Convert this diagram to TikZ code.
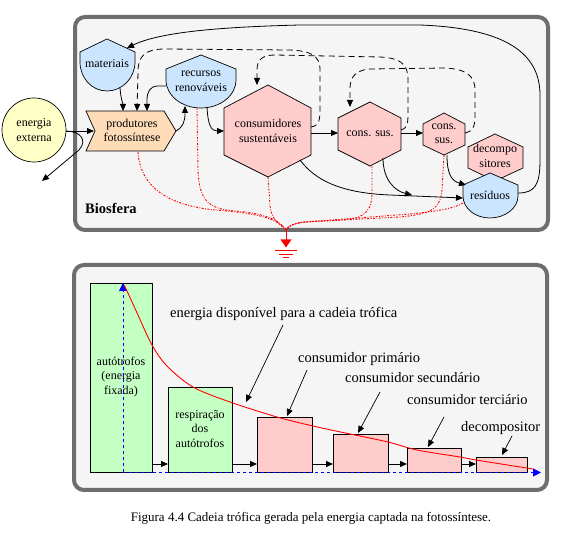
\documentclass[tikz,border=0pt]{standalone}
\usepackage{fontspec}
\setmainfont{Liberation Serif}
\usetikzlibrary{arrows.meta}
\definecolor{panelbg}{HTML}{F5F5F5}
\definecolor{panelbd}{HTML}{6E6E6E}
\definecolor{shieldblue}{HTML}{CCE5FF}
\definecolor{hexpink}{HTML}{FFCCCC}
\definecolor{peachfill}{HTML}{FFDCB8}
\definecolor{sunyellow}{HTML}{FFFFC8}
\definecolor{bargreen}{HTML}{C4FFC4}
\definecolor{flowblue}{HTML}{0000FF}
\tikzset{
  panel/.style={draw=panelbd, fill=panelbg, line width=4pt, rounded corners=10pt},
  shapeline/.style={draw=black, line width=0.7pt},
  lbl/.style={font=\fontsize{12}{14.5}\selectfont, align=center, inner sep=0pt},
  ann/.style={font=\fontsize{14.5}{16}\selectfont, inner sep=0pt, anchor=west},
  arr/.style={-{Triangle[length=7pt,width=6pt]}, line width=0.8pt},
  dasharr/.style={arr, dash pattern=on 6pt off 4pt},
  dissip/.style={draw=red, line width=0.9pt, dash pattern=on 2pt off 1.5pt on 0.8pt off 1.5pt},
  bar/.style={draw=black, line width=0.8pt},
  axisline/.style={draw=flowblue, line width=1pt, dash pattern=on 3pt off 3pt, -{Triangle[length=8pt,width=8pt]}},
}
\begin{document}
\begin{tikzpicture}[x=1pt,y=-1pt]
\useasboundingbox (0,0) rectangle (566,537);
\fill[white] (0,0) rectangle (566,537);

% ---------------- top panel ----------------
\draw[panel] (75,17) rectangle (548,230);
\node[font=\fontsize{14.5}{16}\selectfont\bfseries, inner sep=0pt, anchor=west] (bio) at (85,208) {Biosfera};

% shapes
\draw[shapeline, fill=sunyellow] (34,130) circle (32);
\node[lbl] (E) at (34,130) {energia\\externa};

\draw[shapeline, fill=shieldblue] (107,39) -- (135,52) -- (135,62)
  .. controls (135,78) and (122.2,91) .. (107,91)
  .. controls (91.8,91) and (80,78) .. (80,62) -- (80,52) -- cycle;
\node[lbl] (M) at (107,64) {materiais};

\draw[shapeline, fill=shieldblue] (201,55) -- (236,69) -- (236,80)
  .. controls (236,95.5) and (220.3,108) .. (201,108)
  .. controls (181.7,108) and (166,95.5) .. (166,80) -- (166,69) -- cycle;
\node[lbl] (R) at (201,81) {recursos\\renováveis};

\draw[shapeline, fill=peachfill] (86,111) -- (164,111) -- (176,131) -- (164,151) -- (86,151) -- (95,131) -- cycle;
\node[lbl] (P) at (132,130.5) {produtores\\fotossíntese};

\draw[shapeline, fill=hexpink] (268,85) -- (311,108) -- (311,155) -- (268,177) -- (224,155) -- (224,108) -- cycle;
\node[lbl] (C1) at (268,131) {consumidores\\sustentáveis};

\draw[shapeline, fill=hexpink] (370,102) -- (401,118) -- (401,150) -- (370,166) -- (338,150) -- (338,118) -- cycle;
\node[lbl] (C2) at (370,134) {cons. sus.};

\draw[shapeline, fill=hexpink] (444,113) -- (465,124) -- (465,145) -- (444,155) -- (423,145) -- (423,124) -- cycle;
\node[lbl] (C3) at (444,134) {cons.\\sus.};

\draw[shapeline, fill=hexpink] (495,134) -- (523,147) -- (523,168) -- (495,181) -- (468,168) -- (468,147) -- cycle;
\node[lbl] (D) at (495,156) {decompo\\sitores};

\draw[shapeline, fill=shieldblue] (490,173) -- (518,185) -- (518,196)
  .. controls (518,208.1) and (505.2,218) .. (490,218)
  .. controls (474.8,218) and (463,208.1) .. (463,196) -- (463,185) -- cycle;
\node[lbl] (Res) at (490,195) {resíduos};

% connection points
\coordinate (E-e) at (66,131);
\coordinate (P-w) at (94,131);
\coordinate (out-sink) at (42,181);
\coordinate (M-s) at (120,88);
\coordinate (P-n1) at (123,111);
\coordinate (P-n2) at (137,111);
\coordinate (P-n3) at (147,111);
\coordinate (P-e) at (176,131);
\coordinate (R-s1) at (185,106);
\coordinate (R-w) at (166,86);
\coordinate (R-s2) at (207,107);
\coordinate (C1-w) at (224,131);
\coordinate (C1-n) at (257,85);
\coordinate (C1-e1) at (311,127);
\coordinate (C1-e) at (311,133);
\coordinate (C1-se) at (300,160);
\coordinate (C2-w) at (338,133);
\coordinate (C2-n) at (350,107);
\coordinate (C2-e1) at (401,130);
\coordinate (C2-e) at (401,133);
\coordinate (C2-s) at (383,158);
\coordinate (C3-w) at (423,133);
\coordinate (C3-e) at (465,133);
\coordinate (C3-s) at (447,155);
\coordinate (Res-w) at (463,198);
\coordinate (Res-nw) at (466,185);
\coordinate (Res-e) at (518,193);
\coordinate (M-ne) at (127,48);
\coordinate (join) at (412,195);
\coordinate (G) at (286,230);

% solid flows
\draw[arr] (E-e) -- (P-w);
\draw[arr] (E-e) .. controls (80,131) and (88,140) .. (79,150) -- (out-sink);
\draw[arr] (M-s) .. controls (121,100) and (123,104) .. (P-n1);
\draw[arr] (P-e) .. controls (183,127) and (185,122) .. (R-s1);
\draw[arr] (R-w) -- (158,86) .. controls (150,86) and (147,92) .. (147,100) -- (P-n3);
\draw[arr] (R-s2) .. controls (208,125) and (211,131) .. (C1-w);
\draw[arr] (C1-e) -- (C2-w);
\draw[arr] (C2-e) -- (C3-w);
\draw[arr] (C1-se) .. controls (315,180) and (340,193) .. (390,195) -- (Res-w);
\draw[arr] (C2-s) .. controls (383,180) and (395,191) .. (join);
\draw[arr] (C3-s) .. controls (447,175) and (452,181) .. (Res-nw);
\draw[arr] (Res-e) .. controls (535,193) and (540,185) .. (540,160) -- (540,95)
  .. controls (540,50) and (500,28) .. (420,25) -- (300,25)
  .. controls (220,27) and (160,32) .. (M-ne);

% dashed feedbacks
\draw[dasharr] (C1-e1) .. controls (320,126) and (320,118) .. (320,108) -- (320,70)
  .. controls (320,55) and (310,51) .. (290,50) -- (165,49)
  .. controls (145,49) and (138,56) .. (138,72) -- (P-n2);
\draw[dasharr] (C2-e1) .. controls (408,128) and (408,122) .. (408,112) -- (408,80)
  .. controls (408,62) and (398,58) .. (380,57) -- (275,55)
  .. controls (262,55) and (257,60) .. (257,70) -- (C1-n);
\draw[dasharr] (C3-e) .. controls (474,131) and (475,125) .. (475,115) -- (475,90)
  .. controls (475,75) and (465,69) .. (445,68) -- (370,69)
  .. controls (356,70) and (350,77) .. (350,88) -- (C2-n);

% dissipation to ground
\draw[dissip] (138,152) .. controls (140,185) and (165,205) .. (215,210)
  .. controls (255,213) and (278,218) .. (G);
\draw[dissip] (197,108) -- (198,170) .. controls (199,200) and (208,209) .. (235,211)
  .. controls (262,213) and (279,219) .. (G);
\draw[dissip] (268,177) -- (270,205) .. controls (271,220) and (280,224) .. (G);
\draw[dissip] (372,166) -- (372,195) .. controls (371,215) and (360,219) .. (340,220)
  -- (305,222) .. controls (295,223) and (288,226) .. (G);
\draw[dissip] (444,155) -- (442,190) .. controls (440,210) and (430,214) .. (400,217)
  -- (305,222) .. controls (295,223) and (288,226) .. (G);
\draw[dissip] (463,203) .. controls (455,208) and (440,211) .. (410,214)
  -- (305,222) .. controls (295,223) and (288,226) .. (G);

% ground symbol
\draw[red, line width=1pt] (G) -- (286,240);
\fill[red] (280.5,239.5) -- (291.5,239.5) -- (286,247.5) -- cycle;
\draw[red, line width=1pt] (275,251) -- (297,251);
\draw[red, line width=1pt] (279,254.5) -- (293,254.5);
\draw[red, line width=1pt] (283,258) -- (289,258);

% ---------------- bottom panel ----------------
\draw[panel] (74,265) rectangle (547,490);

\draw[bar, fill=bargreen] (90,283) rectangle (152,472);
\draw[bar, fill=bargreen] (168,387) rectangle (232,472);
\draw[bar, fill=hexpink] (257,417) rectangle (312,472);
\draw[bar, fill=hexpink] (333,434) rectangle (388,472);
\draw[bar, fill=hexpink] (407,448) rectangle (461,472);
\draw[bar, fill=hexpink] (476,457) rectangle (527,472);

\node[lbl] (B1) at (121,377) {autótrofos\\(energia\\fixada)};
\node[lbl] (B2) at (200,429) {respiração\\dos\\autótrofos};

\coordinate (b1e) at (152,464);
\coordinate (b2w) at (168,464);
\coordinate (b2e) at (232,464);
\coordinate (b3w) at (257,464);
\coordinate (b3e) at (312,464);
\coordinate (b4w) at (333,464);
\coordinate (b4e) at (388,464);
\coordinate (b5w) at (407,464);
\coordinate (b5e) at (461,464);
\coordinate (b6w) at (476,464);
\draw[arr] (b1e) -- (b2w);
\draw[arr] (b2e) -- (b3w);
\draw[arr] (b3e) -- (b4w);
\draw[arr] (b4e) -- (b5w);
\draw[arr] (b5e) -- (b6w);

% axes (blue dashed)
\coordinate (O) at (123,472.5);
\coordinate (Ytop) at (123,283);
\coordinate (Xend) at (541,472.5);
\draw[axisline] (O) -- (Ytop);
\draw[axisline] (O) -- (Xend);

% energy curve
\draw[red, line width=0.9pt] plot[smooth, tension=0.55] coordinates {
  (124,285) (127,291) (138,315) (152,345) (167,366) (193,387) (230,402)
  (277,417) (313,426) (350,434) (388,442) (417,450) (460,457) (476,460) (533,469)};

% annotations
\node[ann] (a1) at (170,314) {energia disponível para a cadeia trófica};
\node[ann] (a2) at (298,359) {consumidor primário};
\node[ann] (a3) at (345,378) {consumidor secundário};
\node[ann] (a4) at (407,400) {consumidor terciário};
\node[ann] (a5) at (461,428) {decompositor};

\coordinate (a1s) at (283,325);
\coordinate (a1t) at (246,402);
\coordinate (a2s) at (307,370);
\coordinate (a2t) at (287,416);
\coordinate (a3s) at (380,392);
\coordinate (a3t) at (358,433);
\coordinate (a4s) at (444,417);
\coordinate (a4t) at (428,447);
\coordinate (a5s) at (512,436);
\coordinate (a5t) at (502,455);
\draw[arr, line width=0.7pt] (a1s) -- (a1t);
\draw[arr, line width=0.7pt] (a2s) -- (a2t);
\draw[arr, line width=0.7pt] (a3s) -- (a3t);
\draw[arr, line width=0.7pt] (a4s) -- (a4t);
\draw[arr, line width=0.7pt] (a5s) -- (a5t);

% caption
\node[font=\fontsize{13}{15}\selectfont, inner sep=0pt] (cap) at (311,518)
  {Figura 4.4 Cadeia trófica gerada pela energia captada na fotossíntese.};
\end{tikzpicture}
\end{document}
